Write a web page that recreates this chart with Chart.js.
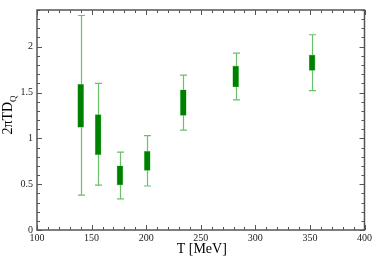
<!DOCTYPE html>
<html>
<head>
<meta charset="utf-8">
<script src="https://cdn.jsdelivr.net/npm/chart.js@4"></script>
<style>
  html, body { margin: 0; padding: 0; background: #fff; }
  #wrap { width: 374px; height: 257px; }
</style>
</head>
<body>
<div id="wrap"><canvas id="c" width="374" height="257"></canvas></div>
<script>
// Temperatures and 2πTD_Q estimates
const temps = [140, 156, 176, 201, 234, 282, 352];
const boxLow = [1.12, 0.82, 0.49, 0.65, 1.25, 1.56, 1.74];
const boxHigh = [1.59, 1.26, 0.70, 0.86, 1.53, 1.79, 1.91];
const errLow = [0.38, 0.49, 0.34, 0.48, 1.09, 1.42, 1.52];
const errHigh = [2.34, 1.60, 0.85, 1.03, 1.69, 1.93, 2.13];

const serif = "'Liberation Serif', 'DejaVu Serif', serif";

// whiskers with caps, drawn behind the boxes
const whiskers = {
    id: 'whiskers',
    beforeDatasetsDraw(chart) {
        const { ctx, scales: { x, y } } = chart;
        ctx.save();
        ctx.strokeStyle = '#6cbf6c';
        ctx.lineWidth = 1.2;
        temps.forEach((t, i) => {
            const px = Math.round(x.getPixelForValue(t)) + 0.5;
            const top = y.getPixelForValue(errHigh[i]);
            const bot = y.getPixelForValue(errLow[i]);
            ctx.beginPath();
            ctx.moveTo(px, top); ctx.lineTo(px, bot);
            ctx.moveTo(px - 3.5, top); ctx.lineTo(px + 3.5, top);
            ctx.moveTo(px - 3.5, bot); ctx.lineTo(px + 3.5, bot);
            ctx.stroke();
        });
        ctx.restore();
    }
};

// frame with inward ticks on all sides, plus axis titles
const frame = {
    id: 'frame',
    afterDraw(chart) {
        const { ctx, chartArea: a, scales: { x, y } } = chart;
        ctx.save();
        ctx.strokeStyle = '#555';
        ctx.lineWidth = 1;
        ctx.beginPath();
        for (let v = 100; v <= 400; v += 10) {
            const px = Math.round(x.getPixelForValue(v)) + 0.5;
            const len = v % 50 === 0 ? 5 : 3;
            ctx.moveTo(px, a.bottom); ctx.lineTo(px, a.bottom - len);
            ctx.moveTo(px, a.top); ctx.lineTo(px, a.top + len);
        }
        for (let k = 0; k <= 24; k++) {
            const py = Math.round(y.getPixelForValue(k / 10)) + 0.5;
            const len = k % 5 === 0 ? 5 : 3;
            ctx.moveTo(a.left, py); ctx.lineTo(a.left + len, py);
            ctx.moveTo(a.right, py); ctx.lineTo(a.right - len, py);
        }
        ctx.stroke();
        ctx.lineWidth = 1.5;
        ctx.strokeRect(a.left, a.top, a.right - a.left, a.bottom - a.top);

        // y title: 2πTD_Q
        ctx.fillStyle = '#000';
        ctx.translate(12, 115);
        ctx.rotate(-Math.PI / 2);
        ctx.font = '14px ' + serif;
        const main = '2πTD';
        const w1 = ctx.measureText(main).width;
        ctx.font = '9px ' + serif;
        const w2 = ctx.measureText('Q').width;
        const start = -(w1 + w2) / 2;
        ctx.font = '14px ' + serif;
        ctx.textBaseline = 'alphabetic';
        ctx.fillText(main, start, 0);
        ctx.font = '9px ' + serif;
        ctx.fillText('Q', start + w1, 4);

        ctx.setTransform(1, 0, 0, 1, 0, 0);
        ctx.font = '14px ' + serif;
        ctx.textAlign = 'center';
        ctx.fillText('T [MeV]', (a.left + a.right) / 2 + 1, 253);
        ctx.restore();
    }
};

new Chart(document.getElementById('c'), {
    type: 'bar',
    data: {
        datasets: [{
            data: temps.map((t, i) => ({ x: t, y: [boxLow[i], boxHigh[i]] })),
            backgroundColor: '#008000',
            borderColor: '#7fcf7f',
            borderWidth: 0.6,
            borderSkipped: false,
            barThickness: 6
        }]
    },
    options: {
        responsive: false,
        animation: false,
        devicePixelRatio: 1,
        layout: { padding: { top: 1, right: 9, left: 0, bottom: 0 } },
        plugins: { legend: { display: false }, tooltip: { enabled: false } },
        scales: {
            x: {
                type: 'linear',
                offset: false,
                min: 100, max: 400,
                grid: { display: false, offset: false, drawTicks: false },
                border: { display: false },
                ticks: {
                    stepSize: 50, padding: 2, maxRotation: 0,
                    color: '#222', font: { family: serif, size: 10 }
                },
                afterFit(s) { s.height = 27; }
            },
            y: {
                min: 0, max: 2.4,
                grid: { display: false, drawTicks: false },
                border: { display: false },
                ticks: {
                    stepSize: 0.5, padding: 4,
                    color: '#222', font: { family: serif, size: 10 },
                    callback: v => (v % 0.5 === 0 ? String(v) : '')
                },
                afterFit(s) { s.width = 37; }
            }
        }
    },
    plugins: [whiskers, frame]
});
</script>
</body>
</html>
